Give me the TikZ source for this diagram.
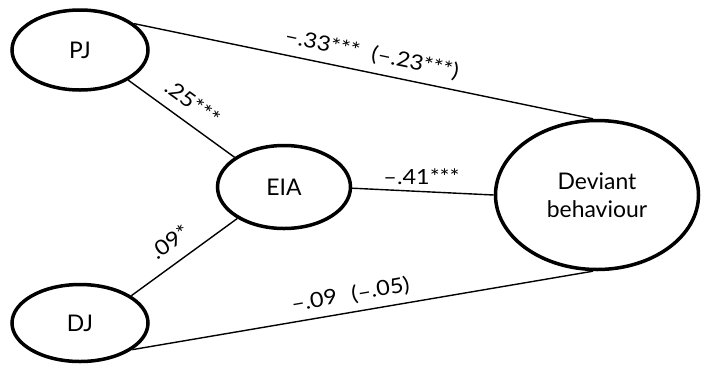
\documentclass[tikz,border=0pt]{standalone}
\usepackage{fontspec}
\setmainfont{Lato}
\usetikzlibrary{shapes.geometric}
\newcommand{\coeftext}[1]{\scalebox{1.12}[1]{#1}}
\begin{document}
\begin{tikzpicture}[x=1bp,y=-1bp,
  latent/.style={ellipse, draw, line width=3.5bp, inner sep=0pt, align=center,
    font=\fontsize{23}{28}\selectfont},
  pathline/.style={line width=1.4bp},
  coef/.style={font=\fontsize{21}{23}\selectfont, inner sep=3bp}]
\useasboundingbox (0,0) rectangle (703,368);
\node[latent, minimum width=136bp, minimum height=80bp] (PJ) at (80,50) {PJ};
\node[latent, minimum width=133bp, minimum height=83bp] (EIA) at (284,187) {EIA};
\node[latent, minimum width=136bp, minimum height=77bp] (DJ) at (80,323) {DJ};
\node[latent, minimum width=203bp, minimum height=149bp] (Dev) at (597,195) {Deviant\\behaviour};
\draw[pathline] (PJ.26) -- node[coef, sloped, above=5bp, pos=0.51] {\coeftext{–.33***\hspace{11bp}(–.23***)}} (Dev.93);
\draw[pathline] (PJ.-32) -- node[coef, sloped, above=8bp, pos=0.5] {\coeftext{.25***}} (EIA.149);
\draw[pathline] (EIA.-1) -- node[coef, above=3bp, pos=0.49] {\coeftext{–.41***}} (Dev.180);
\draw[pathline] (DJ.28) -- node[coef, sloped, above=9bp, pos=0.48] {\coeftext{.09*}} (EIA.214);
\draw[pathline] (DJ.-27) -- node[coef, sloped, above=4bp, pos=0.48] {\coeftext{–.09\hspace{13bp}(–.05)}} (Dev.267);
\end{tikzpicture}
\end{document}
